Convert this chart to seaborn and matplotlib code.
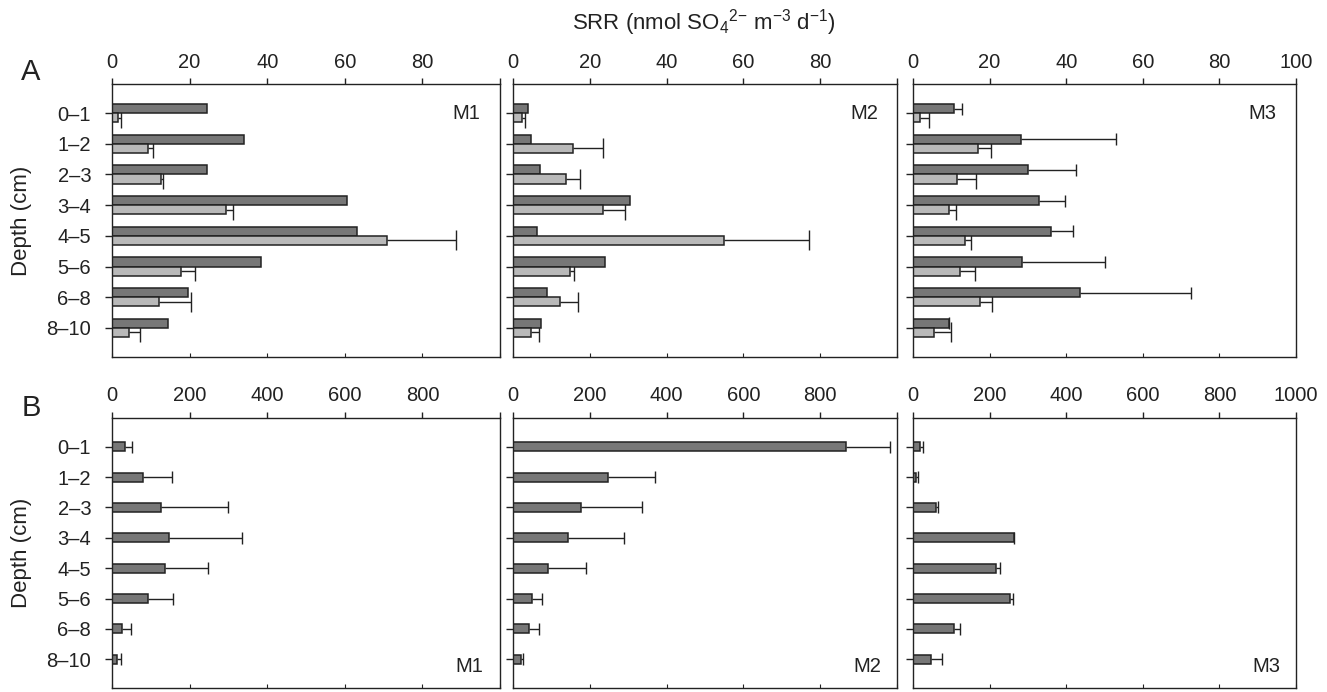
import numpy as np
import pandas as pd
import matplotlib.pyplot as plt
import matplotlib.transforms as mtrans
import seaborn as sns

depths = ['0–1', '1–2', '2–3', '3–4', '4–5', '5–6', '6–8', '8–10']
sites = ['M1', 'M2', 'M3']

# Row A: two bars per depth (dark / light), errors given as +SD
a_m1_dark = [24.5, 34.0, 24.4, 60.5, 63.1, 38.4, 19.7, 14.4]
a_m1_light = [1.5, 9.4, 12.7, 29.5, 71.0, 17.8, 12.2, 4.5]
a_m1_light_err = [0.7, 1.1, 0.5, 1.7, 17.7, 3.7, 8.2, 2.7]

a_m2_dark = [3.9, 4.6, 7.0, 30.5, 6.3, 24.0, 8.9, 7.4]
a_m2_light = [2.4, 15.6, 13.9, 23.4, 55.0, 14.8, 12.2, 4.8]
a_m2_light_err = [0.7, 7.8, 3.5, 5.8, 22.2, 1.0, 4.7, 2.0]

a_m3_dark = [10.7, 28.2, 30.1, 32.8, 36.0, 28.5, 43.6, 9.3]
a_m3_dark_err = [2.1, 24.7, 12.5, 7.0, 5.9, 21.6, 28.9, 0.2]
a_m3_light = [1.7, 17.1, 11.5, 9.4, 13.6, 12.2, 17.5, 5.5]
a_m3_light_err = [2.6, 3.3, 4.9, 1.9, 1.5, 4.0, 3.2, 4.5]

# Row B: one bar per depth
b_m1 = [34, 79, 126, 146, 137, 94, 27, 13]
b_m1_err = [17, 75, 173, 190, 110, 62, 22, 11]
b_m2 = [867, 247, 177, 142, 92, 49, 41, 21]
b_m2_err = [115, 123, 160, 146, 99, 27, 26, 5]
b_m3 = [17, 9, 61, 264, 217, 253, 106, 48]
b_m3_err = [9, 3, 3, 1, 10, 7, 16, 27]

DARK = '#777777'
LIGHT = '#b9b9b9'
INK = '#222222'
FS = 14.5


def add_errors(ax, bars, vals, errs, cap):
    # one-sided error bars, starting at the bar end
    ys = np.array([b.get_y() + b.get_height() / 2 for b in bars])
    vals = np.asarray(vals, dtype=float)
    ends = vals + np.asarray(errs, dtype=float)
    ax.hlines(ys, vals, ends, color=INK, lw=1, zorder=1)
    ax.plot(ends, ys, ls='none', marker='|', ms=cap, mew=1, color=INK, zorder=1)


def grouped_panel(ax, dark, light, light_err, dark_err=None):
    df = pd.DataFrame({'depth': depths * 2,
                       'srr': dark + light,
                       'series': ['dark'] * len(depths) + ['light'] * len(depths)})
    sns.barplot(data=df, x='srr', y='depth', hue='series', order=depths,
                hue_order=['dark', 'light'], palette=[DARK, LIGHT], saturation=1,
                width=0.6, orient='h', errorbar=None, edgecolor=INK, linewidth=1.1,
                legend=False, ax=ax, zorder=2)
    if dark_err is not None:
        add_errors(ax, ax.containers[0], dark, dark_err, 9)
    add_errors(ax, ax.containers[1], light, light_err, 14)


def single_panel(ax, vals, errs):
    df = pd.DataFrame({'depth': depths, 'srr': vals})
    sns.barplot(data=df, x='srr', y='depth', order=depths, color=DARK, saturation=1,
                width=0.3, orient='h', errorbar=None, edgecolor=INK, linewidth=1.1,
                ax=ax, zorder=2)
    add_errors(ax, ax.containers[0], vals, errs, 9)


def style(ax, xmax, step, show_last, first_col, name, name_x, name_y):
    ax.set_xlim(0, xmax)
    ticks = np.arange(0, xmax + step / 2, step)
    ax.set_xticks(ticks)
    ax.set_xticklabels([f'{t:g}' if (t < xmax or show_last) else '' for t in ticks])
    ax.set_xticks(ticks, minor=True)
    ax.xaxis.remove_overlapping_locs = False
    ax.tick_params(axis='x', which='major', top=True, bottom=False, labeltop=True,
                   labelbottom=False, direction='out', length=4, width=1, pad=5,
                   labelsize=FS, colors=INK)
    ax.tick_params(axis='x', which='minor', top=False, bottom=True,
                   direction='in', length=3, width=0.8, colors=INK)
    ax.set_ylim(len(depths) - 0.05, -0.95)
    ax.tick_params(axis='y', direction='out', length=5, width=1, pad=10,
                   labelsize=FS, colors=INK, labelleft=first_col)
    ax.set_xlabel('')
    if first_col:
        ax.set_ylabel('Depth (cm)', fontsize=16, color=INK)
        ax.yaxis.set_label_coords(-0.205, 0.5)
    else:
        ax.set_ylabel('')
    for sp in ax.spines.values():
        sp.set_visible(True)
        sp.set_color(INK)
        sp.set_linewidth(1)
    tr = mtrans.blended_transform_factory(ax.transAxes, ax.transData)
    ax.text(name_x, name_y, name, transform=tr, ha='right', va='center',
            fontsize=FS, color=INK)


sns.set_style('ticks')
plt.rcParams['font.family'] = ['Liberation Sans', 'DejaVu Sans']
plt.rcParams['mathtext.default'] = 'regular'

fig = plt.figure(figsize=(13.27, 6.92), dpi=100)

lefts = [112 / 1327, 513 / 1327, 913 / 1327]
widths = [388 / 1327, 384 / 1327, 383 / 1327]
top_row = (1 - 357 / 692, 273 / 692)
bot_row = (1 - 688 / 692, 270 / 692)

axes_a = [fig.add_axes([l, top_row[0], w, top_row[1]]) for l, w in zip(lefts, widths)]
axes_b = [fig.add_axes([l, bot_row[0], w, bot_row[1]]) for l, w in zip(lefts, widths)]

grouped_panel(axes_a[0], a_m1_dark, a_m1_light, a_m1_light_err)
grouped_panel(axes_a[1], a_m2_dark, a_m2_light, a_m2_light_err)
grouped_panel(axes_a[2], a_m3_dark, a_m3_light, a_m3_light_err, a_m3_dark_err)

single_panel(axes_b[0], b_m1, b_m1_err)
single_panel(axes_b[1], b_m2, b_m2_err)
single_panel(axes_b[2], b_m3, b_m3_err)

for i, ax in enumerate(axes_a):
    style(ax, 100, 20, i == 2, i == 0, sites[i], 0.95, 0)
for i, ax in enumerate(axes_b):
    style(ax, 1000, 200, i == 2, i == 0, sites[i], 0.958, 7.25)

fig.text(0.53, 0.968, r'SRR (nmol SO$_4$$^{2{-}}$ m$^{-3}$ d$^{-1}$)',
         ha='center', va='center', fontsize=16, color=INK)
fig.text(0.016, 1 - 72 / 692, 'A', ha='left', va='center', fontsize=21, color=INK)
fig.text(0.016, 1 - 408 / 692, 'B', ha='left', va='center', fontsize=21, color=INK)

fig.savefig('out.png', dpi=100)
